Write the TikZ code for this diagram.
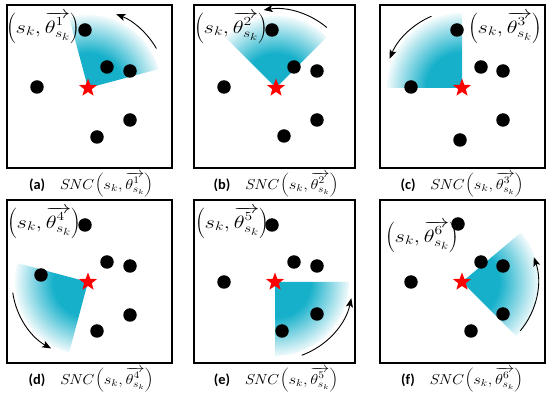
\documentclass[tikz,border=0pt]{standalone}
\usepackage{fontspec}
\usepackage{graphicx}
\newfontfamily\capfont{Carlito}
\usetikzlibrary{shapes.geometric,arrows.meta}
\definecolor{tealc}{RGB}{22,176,202}
\pgfdeclareradialshading{sectshade}{\pgfpoint{0bp}{0bp}}{color(0bp)=(tealc); color(12bp)=(tealc); color(25bp)=(tealc!6); color(50bp)=(white)}
% #1 centre, #2 start (negated), #3 end (negated), #4 radius
\newcommand\sncsector[4]{%
  \begin{scope}
    \clip (#1) -- ([shift={(#2:#4)}]#1) arc[start angle=#2, end angle=#3, radius=#4] -- cycle;
    \shade[shading=sectshade] (#1) circle[radius=#4];
  \end{scope}}
\tikzset{
  panelbox/.style={draw=black, line width=1.5pt},
  dot/.style={circle, fill=black, minimum size=13.5pt, inner sep=0pt},
  redstar/.style={star, star points=5, star point ratio=2.4, fill=red, minimum size=19pt, inner sep=0pt},
  rotarrow/.style={line width=0.9pt, -{Stealth[length=9pt,width=7pt,inset=2pt]}},
  lbl/.style={inner sep=0pt, font=\fontsize{20.74}{24}\selectfont},
  captxt/.style={inner sep=0pt, font=\fontsize{14.4}{17}\selectfont},
}
\newcommand\lblt[1]{\scalebox{1.08}[0.86]{$\left(s_k,\overrightarrow{\theta^{#1}_{s_k}}\right)$}}
\newcommand\capt[2]{{\capfont\bfseries (#1)}\quad \scalebox{1.15}[1]{$\mathit{SNC}\left(s_k,\overrightarrow{\theta^{#2}_{s_k}}\right)$}}
\begin{document}
\begin{tikzpicture}[x=1pt,y=-1pt]
\useasboundingbox (0,0) rectangle (550,398);
% ---------- (a)
\draw[panelbox] (7,5) rectangle (172,168);
\coordinate (ca) at (88,88);
\sncsector{ca}{-15}{-105}{73}
\draw[rotarrow] ([shift={(-30:79)}]ca) arc[start angle=-30, end angle=-69, radius=79];
\node[dot] (a1) at (85,30) {};
\node[dot] (a2) at (107,67) {};
\node[dot] (a3) at (130,71) {};
\node[dot] (a4) at (37,87) {};
\node[dot] (a5) at (130,120) {};
\node[dot] (a6) at (97,137) {};
\node[redstar] (sa) at (ca) {};
\node[lbl] (la) at (43,28) {\lblt{1}};
\node[captxt] (capa) at (91,185) {\capt{a}{1}};
% ---------- (b)
\draw[panelbox] (194,5) rectangle (355,168);
\coordinate (cb) at (276,88);
\sncsector{cb}{-45}{-135}{72}
\draw[rotarrow] ([shift={(-50:79)}]cb) arc[start angle=-50, end angle=-99, radius=79];
\node[dot] (b1) at (272,30) {};
\node[dot] (b2) at (294,67) {};
\node[dot] (b3) at (317,71) {};
\node[dot] (b4) at (224,87) {};
\node[dot] (b5) at (317,120) {};
\node[dot] (b6) at (284,136) {};
\node[redstar] (sb) at (cb) {};
\node[lbl] (lb) at (231,28) {\lblt{2}};
\node[captxt] (capb) at (276,185) {\capt{b}{2}};
% ---------- (c)
\draw[panelbox] (380,5) rectangle (545,168);
\coordinate (cc) at (462,88);
\sncsector{cc}{-90}{-180}{75}
\draw[rotarrow] ([shift={(-113:78)}]cc) arc[start angle=-113, end angle=-158, radius=78];
\node[dot] (c1) at (457,30) {};
\node[dot] (c2) at (481,67) {};
\node[dot] (c3) at (503,71) {};
\node[dot] (c4) at (411,87) {};
\node[dot] (c5) at (503,120) {};
\node[dot] (c6) at (460,140) {};
\node[redstar] (sc) at (cc) {};
\node[lbl] (lc) at (505,28) {\lblt{3}};
\node[captxt] (capc) at (462,185) {\capt{c}{3}};
% ---------- (d)
\draw[panelbox] (7,200) rectangle (172,363);
\coordinate (cd) at (88,282);
\sncsector{cd}{-165}{-255}{73}
\draw[rotarrow] ([shift={(-188:76)}]cd) arc[start angle=-188, end angle=-241, radius=76];
\node[dot] (d1) at (85,225) {};
\node[dot] (d2) at (107,262) {};
\node[dot] (d3) at (130,266) {};
\node[dot] (d4) at (41,275) {};
\node[dot] (d5) at (130,315) {};
\node[dot] (d6) at (97,331) {};
\node[redstar] (sd) at (cd) {};
\node[lbl] (ld) at (44,223) {\lblt{4}};
\node[captxt] (capd) at (91,380) {\capt{d}{4}};
% ---------- (e)
\draw[panelbox] (194,200) rectangle (355,363);
\coordinate (ce) at (275,282);
\sncsector{ce}{-270}{-360}{74}
\draw[rotarrow] ([shift={(-290:78)}]ce) arc[start angle=-290, end angle=-348, radius=78];
\node[dot] (e1) at (272,225) {};
\node[dot] (e2) at (294,262) {};
\node[dot] (e3) at (317,266) {};
\node[dot] (e4) at (224,282) {};
\node[dot] (e5) at (317,314) {};
\node[dot] (e6) at (282,331) {};
\node[redstar] (se) at (ce) {};
\node[lbl] (le) at (232,223) {\lblt{5}};
\node[captxt] (cape) at (276,380) {\capt{e}{5}};
% ---------- (f)
\draw[panelbox] (380,200) rectangle (545,363);
\coordinate (cf) at (462,282);
\sncsector{cf}{45}{-40}{77}
\draw[rotarrow] ([shift={(40:76)}]cf) arc[start angle=40, end angle=-19, radius=76];
\node[dot] (f1) at (458,224) {};
\node[dot] (f2) at (481,262) {};
\node[dot] (f3) at (503,266) {};
\node[dot] (f4) at (411,282) {};
\node[dot] (f5) at (503,314) {};
\node[dot] (f6) at (471,331) {};
\node[redstar] (sf) at (cf) {};
\node[lbl] (lf) at (422,237) {\lblt{6}};
\node[captxt] (capf) at (462,380) {\capt{f}{6}};
\end{tikzpicture}
\end{document}
